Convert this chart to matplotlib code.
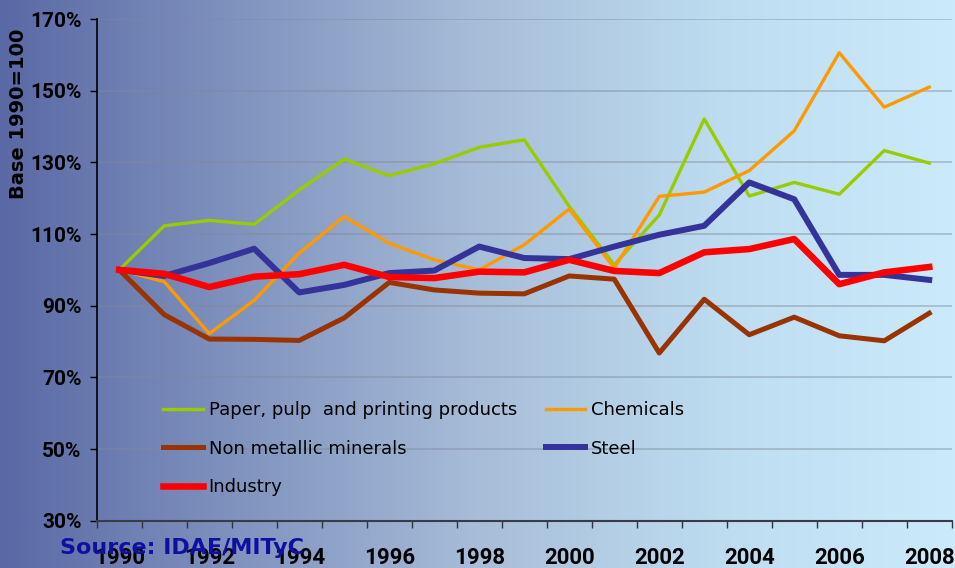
import matplotlib.pyplot as plt
import numpy as np
from matplotlib.colors import LinearSegmentedColormap

years = list(range(1990, 2009))

paper = [100, 112.3, 113.8, 112.7, 122.3, 130.9, 126.3, 129.6, 134.2, 136.3,
         117.7, 101.4, 115.3, 142.1, 120.6, 124.4, 121.1, 133.3, 129.8]
chemicals = [100, 96.7, 82.2, 91.5, 104.7, 114.9, 107.4, 102.8, 100.0, 107.0,
             117.0, 100.5, 120.5, 121.7, 127.7, 138.8, 160.6, 145.4, 151.0]
non_metallic = [100, 87.5, 80.7, 80.6, 80.3, 86.6, 96.5, 94.4, 93.5, 93.3,
                98.3, 97.4, 76.8, 91.8, 81.9, 86.8, 81.6, 80.2, 87.9]
steel = [100, 98.3, 101.9, 105.9, 93.7, 95.8, 99.1, 99.8, 106.5, 103.3,
         103.0, 106.5, 109.8, 112.3, 124.4, 119.7, 98.6, 98.6, 97.2]
industry = [100, 98.9, 95.2, 98.1, 98.8, 101.4, 98.0, 97.7, 99.5, 99.3,
            102.8, 99.7, 99.1, 104.9, 105.8, 108.6, 96.0, 99.3, 100.8]

yticks = [30, 50, 70, 90, 110, 130, 150, 170]


def main():
    fig = plt.figure(figsize=(9.55, 5.68), dpi=100)

    # background gradient
    bg = fig.add_axes([0, 0, 1, 1], zorder=-10)
    cmap = LinearSegmentedColormap.from_list(
        'bg', [(0, '#5a69a5'), (0.5, '#a7bdd8'), (0.75, '#bddcf0'), (1, '#cbebfc')])
    bg.imshow(np.linspace(0, 1, 256).reshape(1, -1), aspect='auto', cmap=cmap,
              extent=[0, 1, 0, 1])
    bg.axis('off')

    ax = fig.add_axes([0.1013, 0.0833, 0.8953, 0.8832])
    ax.patch.set_alpha(0)

    x = np.arange(len(years))
    ax.plot(x, paper, color='#99cc00', lw=2.4, label='Paper, pulp  and printing products')
    ax.plot(x, chemicals, color='#ff9900', lw=2.4, label='Chemicals')
    ax.plot(x, non_metallic, color='#993300', lw=3.6, label='Non metallic minerals')
    ax.plot(x, steel, color='#333399', lw=4.3, label='Steel')
    ax.plot(x, industry, color='#ff0000', lw=4.7, label='Industry')

    ax.set_xlim(-0.5, len(years) - 0.5)
    ax.set_ylim(30, 170)
    ax.set_yticks(yticks)
    ax.set_yticklabels([f'{v}%' for v in yticks])
    ax.grid(axis='y', color='#7f8a99', alpha=0.5, lw=1.2)
    ax.set_axisbelow(True)

    ax.set_xticks(x[::2])
    ax.set_xticklabels([str(y) for y in years[::2]])
    ax.set_xticks(np.arange(-0.5, len(years)), minor=True)
    ax.tick_params(axis='x', which='major', length=0, pad=19, labelsize=16)
    ax.tick_params(axis='x', which='minor', length=5, width=1, color='#333340', direction='out')
    ax.tick_params(axis='y', length=5, width=1, pad=6, labelsize=15)
    for lbl in ax.get_xticklabels() + ax.get_yticklabels():
        lbl.set_fontweight('bold')
        lbl.set_family('Roboto')

    for s in ['top', 'right']:
        ax.spines[s].set_visible(False)
    ax.spines['left'].set_color('black')
    ax.spines['left'].set_linewidth(1.2)
    ax.spines['bottom'].set_color('#3a3a48')
    ax.spines['bottom'].set_linewidth(1.5)

    handles, labels = ax.get_legend_handles_labels()
    order = [0, 2, 4, 1, 3]
    ax.legend([handles[i] for i in order], [labels[i] for i in order],
              ncol=2, frameon=False, fontsize=13, loc='upper left',
              bbox_to_anchor=(0.059, 0.271), handlelength=2.2, handletextpad=0.3,
              columnspacing=1.6, labelspacing=1.14)

    fig.text(19 / 955, 1 - 114 / 568, 'Base 1990=100', rotation=90, fontsize=14,
             fontweight='bold', ha='center', va='center')
    fig.text(60 / 955, 1 - 548 / 568, 'Source: IDAE/MITyC', fontsize=16,
             fontweight='bold', color='#1010a0', ha='left', va='center', zorder=10)

    fig.savefig('out.png', dpi=100)


if __name__ == '__main__':
    main()
